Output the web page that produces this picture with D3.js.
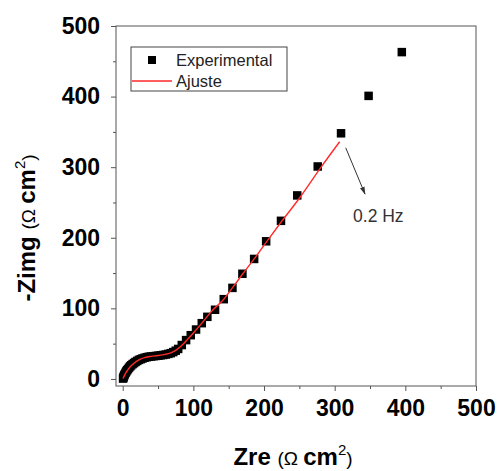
<!DOCTYPE html>
<html>
<head>
<meta charset="utf-8">
<script src="https://cdn.jsdelivr.net/npm/d3@7"></script>
<style>
body{margin:0;background:#fff;}
svg{display:block;font-family:"Liberation Sans",Arial,sans-serif;}
</style>
</head>
<body>
<div id="chart"></div>
<script>
// experimental points
var zre = [0.5,1,1.5,2.2,3,4,5,6.2,7.5,9,10.5,12,14,16,18,20.5,23,25.5,28,31,34,37,40,43.5,47,50.5,54,57.5,61,64.5,68,71.5,75,78.5,83.6,89.7,96.3,103.8,111.9,119.8,130.7,143,155.3,169.4,186,203,224,247,276,309,348,395];
var zimg = [0.5,2,3.5,5,6.8,8.7,10.5,12.3,14,16,17.8,19.3,21,22.5,24,25.5,27,28,29,30,30.8,31.4,31.8,32.2,32.6,33,33.5,34,34.6,35.5,36.5,38,40,42.5,48,55,62,70,79,88,98,113,129,149,170,195,224,260,301,348,401,463];
// fit curve
var fitRe = [0.5,2,4,7,10,14,19,25,32,40,50,60,68,75,82,90,100,112,125,143,156,170,186,204,224,250,280,307];
var fitIm = [0.5,4,8,12.5,16.5,20.5,24.5,28,30.5,32,33.2,34.8,37,40.5,46,54,65,79,95,113,130,149,170,195,222,256,299,336];
var ticks = [0,100,200,300,400,500];
var minorTicks = [50,150,250,350,450];
// arrow to 0.2 Hz point
var arrowRe = [315.6,342.9], arrowIm = [327.5,261.9];
var noteLabel = '0.2 Hz', noteRe = 326, noteIm = 222;

var W = 502, H = 471;
var pLeft = 116, pRight = 476, pTop = 26, pBottom = 386;

var svg = d3.select('#chart').append('svg')
	.attr('width', W).attr('height', H);

var x = d3.scaleLinear().domain([-9.5, 500]).range([pLeft, pRight]);
var y = d3.scaleLinear().domain([-10, 500]).range([pBottom, pTop]);

var tickFont = 'bold 23px "Liberation Sans", Arial, sans-serif';

// x axis
svg.append('g').attr('transform', 'translate(0,' + pBottom + ')')
	.call(d3.axisBottom(x).tickValues(ticks).tickSize(5).tickPadding(8.7).tickSizeOuter(0));
svg.append('g').attr('transform', 'translate(0,' + pBottom + ')')
	.call(d3.axisBottom(x).tickValues(minorTicks).tickSize(3).tickFormat('').tickSizeOuter(0));
// y axis
svg.append('g').attr('transform', 'translate(' + pLeft + ',0)')
	.call(d3.axisLeft(y).tickValues(ticks).tickSize(5).tickPadding(11).tickSizeOuter(0));
svg.append('g').attr('transform', 'translate(' + pLeft + ',0)')
	.call(d3.axisLeft(y).tickValues(minorTicks).tickSize(3).tickFormat('').tickSizeOuter(0));

svg.selectAll('.domain').remove();
svg.selectAll('.tick line').attr('stroke', '#555');
svg.selectAll('.tick text').style('font', tickFont).attr('fill', '#000');

// frame
svg.append('rect')
	.attr('x', pLeft).attr('y', pTop)
	.attr('width', pRight - pLeft).attr('height', pBottom - pTop)
	.attr('fill', 'none').attr('stroke', '#555').attr('stroke-width', 1);

// markers
var pts = zre.map(function(d, i){ return [d, zimg[i]]; });
svg.append('g').selectAll('rect').data(pts).enter().append('rect')
	.attr('x', function(d){ return x(d[0]) - 4.25; })
	.attr('y', function(d){ return y(d[1]) - 4.25; })
	.attr('width', 8.5).attr('height', 8.5)
	.attr('fill', '#000');

// fit line
var fit = fitRe.map(function(d, i){ return [d, fitIm[i]]; });
svg.append('path')
	.datum(fit)
	.attr('d', d3.line().x(function(d){ return x(d[0]); }).y(function(d){ return y(d[1]); }).curve(d3.curveMonotoneX))
	.attr('fill', 'none').attr('stroke', '#ff2a2a').attr('stroke-width', 1.4);

// annotation arrow
svg.append('defs').append('marker')
	.attr('id', 'arr').attr('viewBox', '0 0 10 10')
	.attr('refX', 9).attr('refY', 5)
	.attr('markerWidth', 8).attr('markerHeight', 8)
	.attr('orient', 'auto')
	.append('path').attr('d', 'M0,2L10,5L0,8z').attr('fill', '#333');
svg.append('line')
	.attr('x1', x(arrowRe[0])).attr('y1', y(arrowIm[0]))
	.attr('x2', x(arrowRe[1])).attr('y2', y(arrowIm[1]))
	.attr('stroke', '#333').attr('stroke-width', 1)
	.attr('marker-end', 'url(#arr)');
svg.append('text')
	.attr('x', x(noteRe)).attr('y', y(noteIm))
	.attr('font-size', 17.5).attr('fill', '#333')
	.text(noteLabel);

// legend
var lg = svg.append('g');
lg.append('rect').attr('x', 131).attr('y', 47).attr('width', 156).attr('height', 44)
	.attr('fill', '#fff').attr('stroke', '#444').attr('stroke-width', 1);
lg.append('rect').attr('x', 148).attr('y', 56).attr('width', 8).attr('height', 8).attr('fill', '#000');
lg.append('text').attr('x', 176).attr('y', 66).attr('font-size', 16.5).attr('fill', '#222').text('Experimental');
lg.append('line').attr('x1', 132).attr('x2', 172).attr('y1', 81).attr('y2', 81)
	.attr('stroke', '#ff2a2a').attr('stroke-width', 1.4);
lg.append('text').attr('x', 176).attr('y', 87).attr('font-size', 16.5).attr('fill', '#222').text('Ajuste');

// axis titles
function title(t, main){
	t.append('tspan').attr('font-weight', 'bold').attr('font-size', 24).text(main + ' ');
	t.append('tspan').attr('font-size', 19).text('(\u03A9 ');
	t.append('tspan').attr('font-weight', 'bold').attr('font-size', 24).text('cm');
	t.append('tspan').attr('font-size', 15).attr('dy', -10).text('2');
	t.append('tspan').attr('font-size', 19).attr('dy', 10).text(')');
}
var xt = svg.append('text').attr('x', 293).attr('y', 465).attr('text-anchor', 'middle').attr('fill', '#000');
title(xt, 'Zre');
var yt = svg.append('text').attr('transform', 'translate(35,228) rotate(-90)').attr('text-anchor', 'middle').attr('fill', '#000');
title(yt, '-Zimg');
</script>
</body>
</html>
